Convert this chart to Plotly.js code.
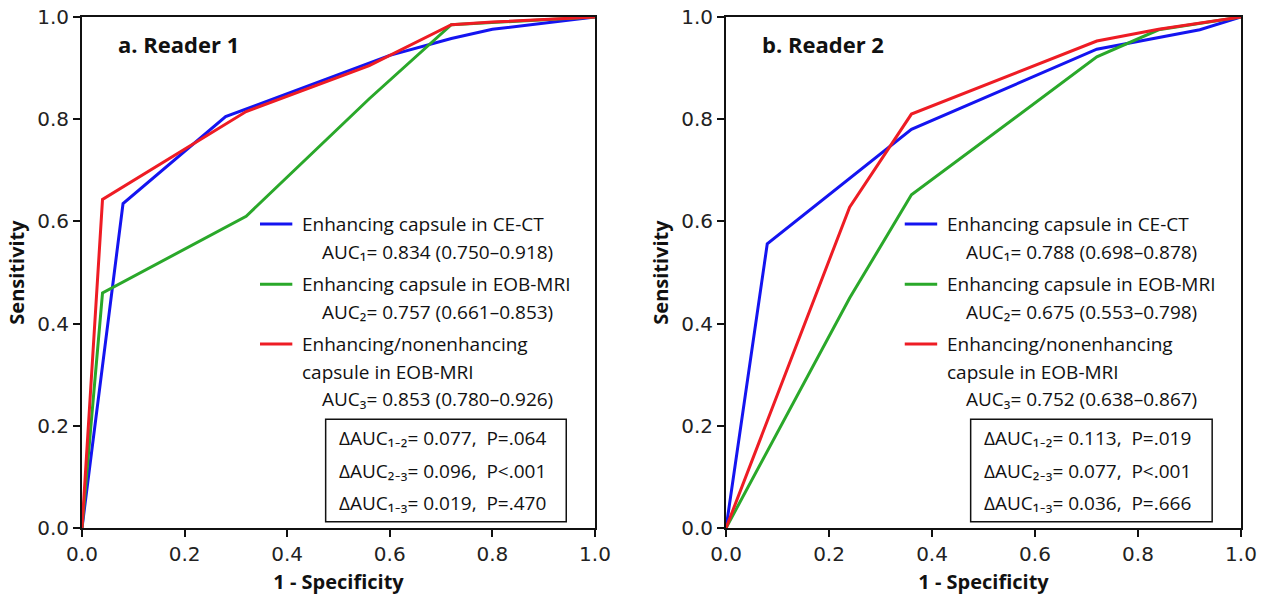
<!DOCTYPE html>
<html>
<head>
<meta charset="utf-8">
<script src="https://cdn.plot.ly/plotly-3.0.1.min.js"></script>
<style>html,body{margin:0;padding:0;background:#fff;}#chart{width:1275px;height:595px;}</style>
</head>
<body>
<div id="chart"></div>
<script>
// ---------- data ----------
const panelTitles = ["a. Reader 1", "b. Reader 2"];
const seriesNames = ["Enhancing capsule in CE-CT", "Enhancing capsule in EOB-MRI", "Enhancing/nonenhancing<br>capsule in EOB-MRI"];
const seriesColors = ["#1414f0", "#2aa82a", "#ee1c24"];

// Reader 1 ROC curves (1 - specificity, sensitivity)
const r1CtX  = [0, 0.08, 0.28, 0.60, 0.72, 0.80, 1.0];
const r1CtY  = [0, 0.635, 0.805, 0.925, 0.958, 0.976, 1.0];
const r1EobX = [0, 0.04, 0.32, 0.56, 0.72, 1.0];
const r1EobY = [0, 0.46, 0.61, 0.84, 0.985, 1.0];
const r1EncX = [0, 0.04, 0.32, 0.56, 0.72, 0.80, 1.0];
const r1EncY = [0, 0.643, 0.815, 0.905, 0.985, 0.99, 1.0];

// Reader 2 ROC curves
const r2CtX  = [0, 0.08, 0.36, 0.72, 0.92, 1.0];
const r2CtY  = [0, 0.556, 0.78, 0.937, 0.975, 1.0];
const r2EobX = [0, 0.24, 0.36, 0.72, 0.84, 1.0];
const r2EobY = [0, 0.45, 0.652, 0.922, 0.975, 1.0];
const r2EncX = [0, 0.24, 0.36, 0.72, 0.84, 1.0];
const r2EncY = [0, 0.628, 0.81, 0.953, 0.976, 1.0];

// AUC statistics
const aucSubs = ["\u2081", "\u2082", "\u2083"];
const r1Auc = ["0.834", "0.757", "0.853"];
const r1CiLo = ["0.750", "0.661", "0.780"];
const r1CiHi = ["0.918", "0.853", "0.926"];
const r2Auc = ["0.788", "0.675", "0.752"];
const r2CiLo = ["0.698", "0.553", "0.638"];
const r2CiHi = ["0.878", "0.798", "0.867"];

const deltaPairs = ["\u2081\u208B\u2082", "\u2082\u208B\u2083", "\u2081\u208B\u2083"];
const r1Delta = ["0.077", "0.096", "0.019"];
const r1P = ["P=.064", "P<.001", "P=.470"];
const r2Delta = ["0.113", "0.077", "0.036"];
const r2P = ["P=.019", "P<.001", "P=.666"];

const xTickVals = [0, 0.2, 0.4, 0.6, 0.8, 1.0];
const xAxisTitle = "1 - Specificity";
const yAxisTitle = "Sensitivity";

// ---------- build ----------
const panels = [
  {xs: [r1CtX, r1EobX, r1EncX], ys: [r1CtY, r1EobY, r1EncY], auc: r1Auc, lo: r1CiLo, hi: r1CiHi, d: r1Delta, p: r1P, xa: "x", ya: "y"},
  {xs: [r2CtX, r2EobX, r2EncX], ys: [r2CtY, r2EobY, r2EncY], auc: r2Auc, lo: r2CiLo, hi: r2CiHi, d: r2Delta, p: r2P, xa: "x2", ya: "y2"}
];

const legendFont = {family: "Open Sans, Lato, sans-serif", size: 19, color: "#111"};
const traces = [];
const annotations = [];
const shapes = [];

// legend layout (style constants, in axis units)
const itemTops = [0.595, 0.477, 0.360];
const lineStep = 0.054;

panels.forEach((pn, pi) => {
  for (let s = 0; s < 3; s++) {
    traces.push({
      type: "scatter", mode: "lines",
      x: pn.xs[s], y: pn.ys[s],
      xaxis: pn.xa, yaxis: pn.ya,
      line: {color: seriesColors[s], width: 3},
      cliponaxis: false, showlegend: false, hoverinfo: "x+y"
    });
    // legend sample
    shapes.push({type: "line", xref: pn.xa, yref: pn.ya,
      x0: 0.347, x1: 0.410, y0: itemTops[s], y1: itemTops[s],
      line: {color: seriesColors[s], width: 3}});
    const nameLines = seriesNames[s].split("<br>");
    nameLines.forEach((t, li) => {
      annotations.push({xref: pn.xa, yref: pn.ya, x: 0.425, y: itemTops[s] - li * lineStep,
        xanchor: "left", yanchor: "middle", showarrow: false, text: t, font: legendFont});
    });
    annotations.push({xref: pn.xa, yref: pn.ya, x: 0.463, y: itemTops[s] - nameLines.length * lineStep,
      xanchor: "left", yanchor: "middle", showarrow: false,
      text: "AUC" + aucSubs[s] + "= " + pn.auc[s] + " (" + pn.lo[s] + "\u2013" + pn.hi[s] + ")",
      font: legendFont});
  }
  // delta box
  shapes.push({type: "rect", xref: pn.xa, yref: pn.ya, x0: 0.475, x1: 0.944, y0: 0.012, y1: 0.213,
    line: {color: "#111", width: 1.5}, fillcolor: "rgba(0,0,0,0)"});
  const boxY = [0.177, 0.112, 0.048];
  for (let k = 0; k < 3; k++) {
    annotations.push({xref: pn.xa, yref: pn.ya, x: 0.498, y: boxY[k], xanchor: "left", yanchor: "middle",
      showarrow: false, font: legendFont,
      text: "\u0394AUC" + deltaPairs[k] + "= " + pn.d[k] + ",\u00a0\u00a0" + pn.p[k]});
  }
  // panel title
  annotations.push({xref: pn.xa, yref: pn.ya, x: 0.066, y: 0.947, xanchor: "left", yanchor: "middle",
    showarrow: false, text: "<b>" + panelTitles[pi] + "</b>",
    font: {family: "Open Sans, sans-serif", size: 22, color: "#111"}});
});

function xAxis(domain, anchor) {
  return {domain: domain, anchor: anchor, range: [0, 1], tickvals: xTickVals, tickformat: ".1f",
    showline: true, mirror: true, linecolor: "#111", linewidth: 2,
    ticks: "outside", ticklen: 7, tickwidth: 2, tickcolor: "#111",
    showgrid: false, zeroline: false, fixedrange: true,
    tickfont: {family: "DejaVu Sans, sans-serif", size: 20, color: "#222"},
    title: {text: "<b>" + xAxisTitle + "</b>", standoff: 10,
      font: {family: "Open Sans, sans-serif", size: 20, color: "#111"}}};
}
function yAxis(anchor) {
  return {domain: [0, 1], anchor: anchor, range: [0, 1], tickvals: xTickVals, tickformat: ".1f",
    showline: true, mirror: true, linecolor: "#111", linewidth: 2,
    ticks: "outside", ticklen: 7, tickwidth: 2, tickcolor: "#111",
    showgrid: false, zeroline: false, fixedrange: true,
    tickfont: {family: "DejaVu Sans, sans-serif", size: 20, color: "#222"},
    title: {text: "<b>" + yAxisTitle + "</b>", standoff: 7,
      font: {family: "Open Sans, sans-serif", size: 20, color: "#111"}}};
}

const layout = {
  width: 1275, height: 595,
  margin: {l: 82, r: 34, t: 17, b: 67},
  paper_bgcolor: "#fff", plot_bgcolor: "#fff",
  showlegend: false,
  font: {family: "Open Sans, sans-serif", size: 19, color: "#111"},
  xaxis: xAxis([0, 0.4426], "y"),
  yaxis: yAxis("x"),
  xaxis2: xAxis([0.5557, 1.0], "y2"),
  yaxis2: yAxis("x2"),
  annotations: annotations,
  shapes: shapes
};

Plotly.newPlot("chart", traces, layout, {displayModeBar: false});
</script>
</body>
</html>
